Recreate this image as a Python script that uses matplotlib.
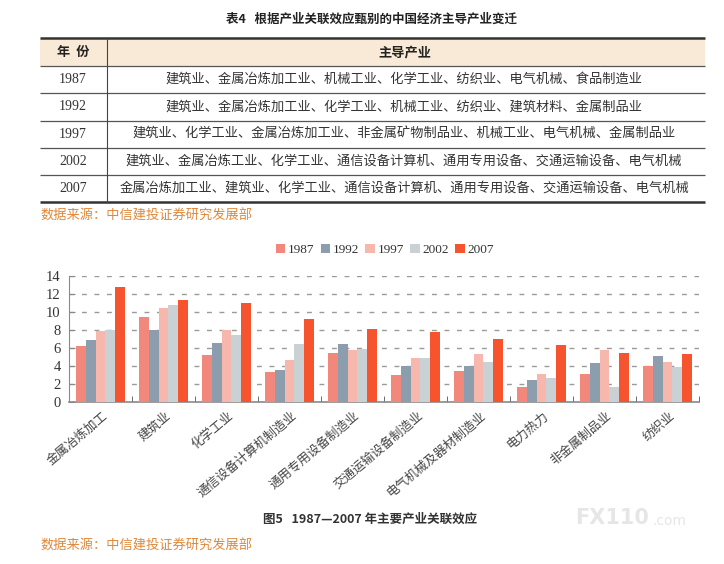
import matplotlib
matplotlib.use("Agg")
import matplotlib.pyplot as plt
from matplotlib.lines import Line2D
from matplotlib.patches import Rectangle, Patch
import numpy as np

plt.rcParams['font.family'] = ['Noto Sans CJK SC', 'DejaVu Sans']

# ---------------- data ----------------
table_title = "表4   根据产业关联效应甄别的中国经济主导产业变迁"
table_header = ["年  份", "主导产业"]
table_years = ["1987", "1992", "1997", "2002", "2007"]
table_industries = [
    "建筑业、金属冶炼加工业、机械工业、化学工业、纺织业、电气机械、食品制造业",
    "建筑业、金属冶炼加工业、化学工业、机械工业、纺织业、建筑材料、金属制品业",
    "建筑业、化学工业、金属冶炼加工业、非金属矿物制品业、机械工业、电气机械、金属制品业",
    "建筑业、金属冶炼工业、化学工业、通信设备计算机、通用专用设备、交通运输设备、电气机械",
    "金属冶炼加工业、建筑业、化学工业、通信设备计算机、通用专用设备、交通运输设备、电气机械",
]
source_text = "数据来源：中信建投证券研究发展部"
chart_caption = "图5   1987—2007 年主要产业关联效应"

categories = ["金属冶炼加工", "建筑业", "化学工业", "通信设备计算机制造业", "通用专用设备制造业",
              "交通运输设备制造业", "电气机械及器材制造业", "电力热力", "非金属制品业", "纺织业"]
series_names = ["1987", "1992", "1997", "2002", "2007"]
v1987 = [6.2, 9.4, 5.2, 3.3, 5.4, 3.05, 3.5, 1.65, 3.15, 4.0]
v1992 = [6.85, 8.0, 6.6, 3.55, 6.4, 3.95, 3.95, 2.45, 4.3, 5.1]
v1997 = [7.9, 10.4, 7.95, 4.65, 5.75, 4.85, 5.3, 3.1, 5.75, 4.45]
v2002 = [8.0, 10.8, 7.4, 6.4, 5.9, 4.9, 4.4, 2.65, 1.65, 3.85]
v2007 = [12.8, 11.3, 11.0, 9.2, 8.1, 7.75, 7.05, 6.3, 5.4, 5.35]
series_values = [v1987, v1992, v1997, v2002, v2007]
series_colors = ["#F2887C", "#8C9DAD", "#F8B7AC", "#C9D1D5", "#F6542F"]
y_ticks = [0, 2, 4, 6, 8, 10, 12, 14]

# ---------------- figure ----------------
W, H = 724, 564
fig = plt.figure(figsize=(W / 100, H / 100), dpi=100)
fig.patch.set_facecolor("white")

def fx(px):
    return px / W

def fy(py):
    return 1 - py / H

def hline(y, x0, x1, lw, color):
    fig.add_artist(Line2D([fx(x0), fx(x1)], [fy(y), fy(y)], transform=fig.transFigure,
                          lw=lw, color=color, solid_capstyle='butt'))

# title of table
fig.text(fx(372), fy(19), table_title, ha='center', va='center', fontsize=9,
         fontweight='bold', color='#222222')

# table geometry
tx0, tx1, tsep = 40, 705, 107
row_lines = [38, 66, 93, 121, 148, 175, 202]
fig.add_artist(Rectangle((fx(tx0), fy(66)), fx(tx1) - fx(tx0), fy(38) - fy(66),
                         transform=fig.transFigure, facecolor='#F8EAD6', edgecolor='none'))
hline(row_lines[0], tx0, tx1, 1.8, '#333333')
hline(row_lines[-1], tx0, tx1, 1.8, '#333333')
for y in row_lines[1:-1]:
    hline(y, tx0, tx1, 0.9, '#555555')
fig.add_artist(Line2D([fx(tsep), fx(tsep)], [fy(38), fy(202)], transform=fig.transFigure,
                      lw=0.8, color='#444444'))

fig.text(fx(73), fy(52), table_header[0], ha='center', va='center', fontsize=9.5,
         fontweight='bold', color='#222222')
fig.text(fx(405), fy(52), table_header[1], ha='center', va='center', fontsize=9.5,
         fontweight='bold', color='#222222')
for i, (yr, txt) in enumerate(zip(table_years, table_industries)):
    yc = (row_lines[i + 1] + row_lines[i + 2]) / 2
    fig.text(fx(73), fy(yc), yr, ha='center', va='center', fontsize=10,
             family='Liberation Serif', color='#333333')
    fig.text(fx(404), fy(yc), txt, ha='center', va='center', fontsize=9.5, color='#333333')

fig.text(fx(40), fy(216), source_text, ha='left', va='center', fontsize=9.5, color='#E0883A')

# ---------------- chart ----------------
ax = fig.add_axes([fx(69), fy(402), fx(699) - fx(69), fy(276) - fy(402)])
n = len(categories)
x = np.arange(n)
bw = 0.155
for k, (name, vals, col) in enumerate(zip(series_names, series_values, series_colors)):
    ax.bar(x + (k - 2) * bw, vals, width=bw, color=col, label=name, zorder=3)

ax.set_xlim(-0.5, n - 0.5)
ax.set_ylim(0, 14)
ax.set_yticks(y_ticks)
ax.set_yticklabels([str(t) for t in y_ticks], family='Liberation Serif', fontsize=10.5,
                   color='#333333')
ax.yaxis.grid(True, linestyle=(0, (3.5, 5.5)), color='#9A9A9A', lw=1.0, zorder=0)
ax.set_axisbelow(True)
for s in ['top', 'right']:
    ax.spines[s].set_visible(False)
ax.spines['left'].set_color('#8A8A8A')
ax.spines['bottom'].set_color('#8A8A8A')
ax.spines['bottom'].set_linewidth(1.2)
ax.tick_params(axis='y', direction='in', length=4, color='#8A8A8A', pad=6)
ax.set_xticks(x)
ax.set_xticklabels([])
ax.tick_params(axis='x', length=0)
ax.set_xticks(np.arange(n + 1) - 0.5, minor=True)
ax.tick_params(axis='x', which='minor', direction='in', length=4, color='#555555')

for i, c in enumerate(categories):
    ax.annotate(c, xy=(x[i], 0), xycoords='data', xytext=(1, -5), textcoords='offset points',
                rotation=40, rotation_mode='anchor', ha='right', va='top',
                fontsize=9, color='#444444')

handles = [Patch(facecolor=c, edgecolor='none') for c in series_colors]
fig.legend(handles, series_names, loc='center', bbox_to_anchor=(fx(385), fy(250)), ncol=5,
           frameon=False, handlelength=0.7, handleheight=0.7, handletextpad=0.25,
           columnspacing=0.45, prop={'family': 'Liberation Serif', 'size': 9.5},
           labelcolor='#333333')

fig.text(fx(370), fy(519), chart_caption, ha='center', va='center', fontsize=9,
         fontweight='bold', color='#333333')
fig.text(fx(40), fy(546), source_text, ha='left', va='center', fontsize=9.5, color='#E0883A')

# watermark
fig.text(fx(575), fy(518), "FX110", ha='left', va='center', fontsize=15, fontweight='bold',
         color='#E6E6E6', family='DejaVu Sans')
fig.text(fx(652), fy(521), ".com", ha='left', va='center', fontsize=10,
         color='#E6E6E6', family='DejaVu Sans')

fig.savefig("out.png", dpi=100, facecolor='white')
